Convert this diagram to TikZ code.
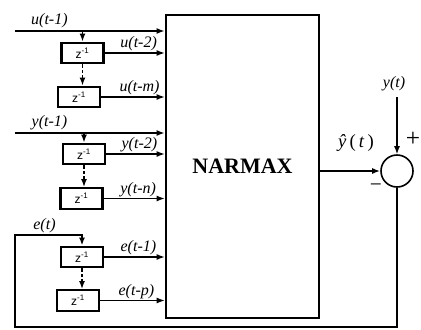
\documentclass[tikz,border=0pt]{standalone}
\usepackage{fontspec}
\setmainfont{Liberation Serif}
\newfontfamily\zfont{Liberation Sans}
\usetikzlibrary{arrows.meta}
\begin{document}
\begin{tikzpicture}[x=0.75pt,y=-0.75pt,
  tip/.style={-{Latex[length=6pt,width=4.5pt]}},
  delay/.style={draw,line width=1.7pt,minimum width=31.5pt,minimum height=15.5pt,
    inner sep=0pt,font=\zfont\fontsize{9}{10}\selectfont},
  sig/.style={font=\fontsize{12}{14}\selectfont\itshape,inner sep=1pt},
  busline/.style={tip,line width=1.9pt},
  tapline/.style={tip,line width=1pt},
  chain/.style={tip,line width=1.1pt,dash pattern=on 2.5pt off 1.5pt},
  sign/.style={inner sep=0pt}]
\useasboundingbox (0,0) rectangle (421,329);

% main block
\node[draw,line width=2pt,minimum width=114.75pt,minimum height=227.25pt,inner sep=0pt,
      font=\bfseries\fontsize{16.5}{18}\selectfont] (narmax) at (242.5,166.5) {NARMAX};

% delay lines
\node[delay] (zu1) at (82.5,53) {z\textsuperscript{-1}};
\node[delay] (zu2) at (79,97) {z\textsuperscript{-1}};
\node[delay] (zy1) at (84,154) {z\textsuperscript{-1}};
\node[delay] (zy2) at (81.5,198.5) {z\textsuperscript{-1}};
\node[delay] (ze1) at (82,257) {z\textsuperscript{-1}};
\node[delay] (ze2) at (78,300.5) {z\textsuperscript{-1}};

% summing junction
\node[draw,circle,line width=1.2pt,minimum size=24pt,inner sep=0pt] (sum) at (397,171) {};
\node[sign,font=\fontsize{19}{20}\selectfont] (plus) at (413,139) {+};
\node[sign,font=\fontsize{16}{18}\selectfont] (minus) at (376,188) {−};

\coordinate (uin) at (15,31);
\coordinate (yin) at (15,133);
\coordinate (ebot) at (15,327);
\coordinate (eleft) at (15,235);
\coordinate (ymeas) at (397,97);

% u inputs
\draw[busline] (uin) -- (uin -| narmax.west)
  node[sig,above,pos=0.23] {u(t-1)};
\draw[tip,line width=1.1pt] (zu1.north |- uin) -- (zu1.north);
\draw[tapline] (zu1.east) -- (zu1.east -| narmax.west)
  node[sig,above,midway,xshift=3pt] {u(t-2)};
\draw[chain] (zu1.south) -- (zu1.south |- zu2.north);
\draw[tapline] (zu2.east) -- (zu2.east -| narmax.west)
  node[sig,above,midway,xshift=5pt] {u(t-m)};

% y inputs
\draw[busline] (yin) -- (yin -| narmax.west)
  node[sig,above,pos=0.23] {y(t-1)};
\draw[tip,line width=1.1pt] (zy1.north |- yin) -- (zy1.north);
\draw[tapline] (zy1.east) -- (zy1.east -| narmax.west)
  node[sig,above,midway,xshift=3pt] {y(t-2)};
\draw[chain] (zy1.south) -- (zy1.south |- zy2.north);
\draw[tapline] (zy2.east) -- (zy2.east -| narmax.west)
  node[sig,above,midway,xshift=3pt] {y(t-n)};

% error feedback
\draw[tip,line width=1.6pt] (sum.south) |- (ebot) -- (eleft) -| (ze1.north)
  node[sig,above,pos=0.22] {e(t)};
\draw[tapline] (ze1.east) -- (ze1.east -| narmax.west)
  node[sig,above,midway,xshift=3pt] {e(t-1)};
\draw[chain] (ze1.south) -- (ze1.south |- ze2.north);
\draw[tapline] (ze2.east) -- (ze2.east -| narmax.west)
  node[sig,above,midway,xshift=3pt] {e(t-p)};

% output and comparison
\draw[busline] (sum.west -| narmax.east) -- (sum.west);
\node[font=\fontsize{14}{16}\selectfont,inner sep=0pt] (yhat) at (356,143)
  {\textit{ŷ}\,(\,\textit{t}\,)};
\draw[tapline] (ymeas) -- (sum.north);
\node[sig] (ylab) at (394,84) {y(t)};
\end{tikzpicture}
\end{document}
